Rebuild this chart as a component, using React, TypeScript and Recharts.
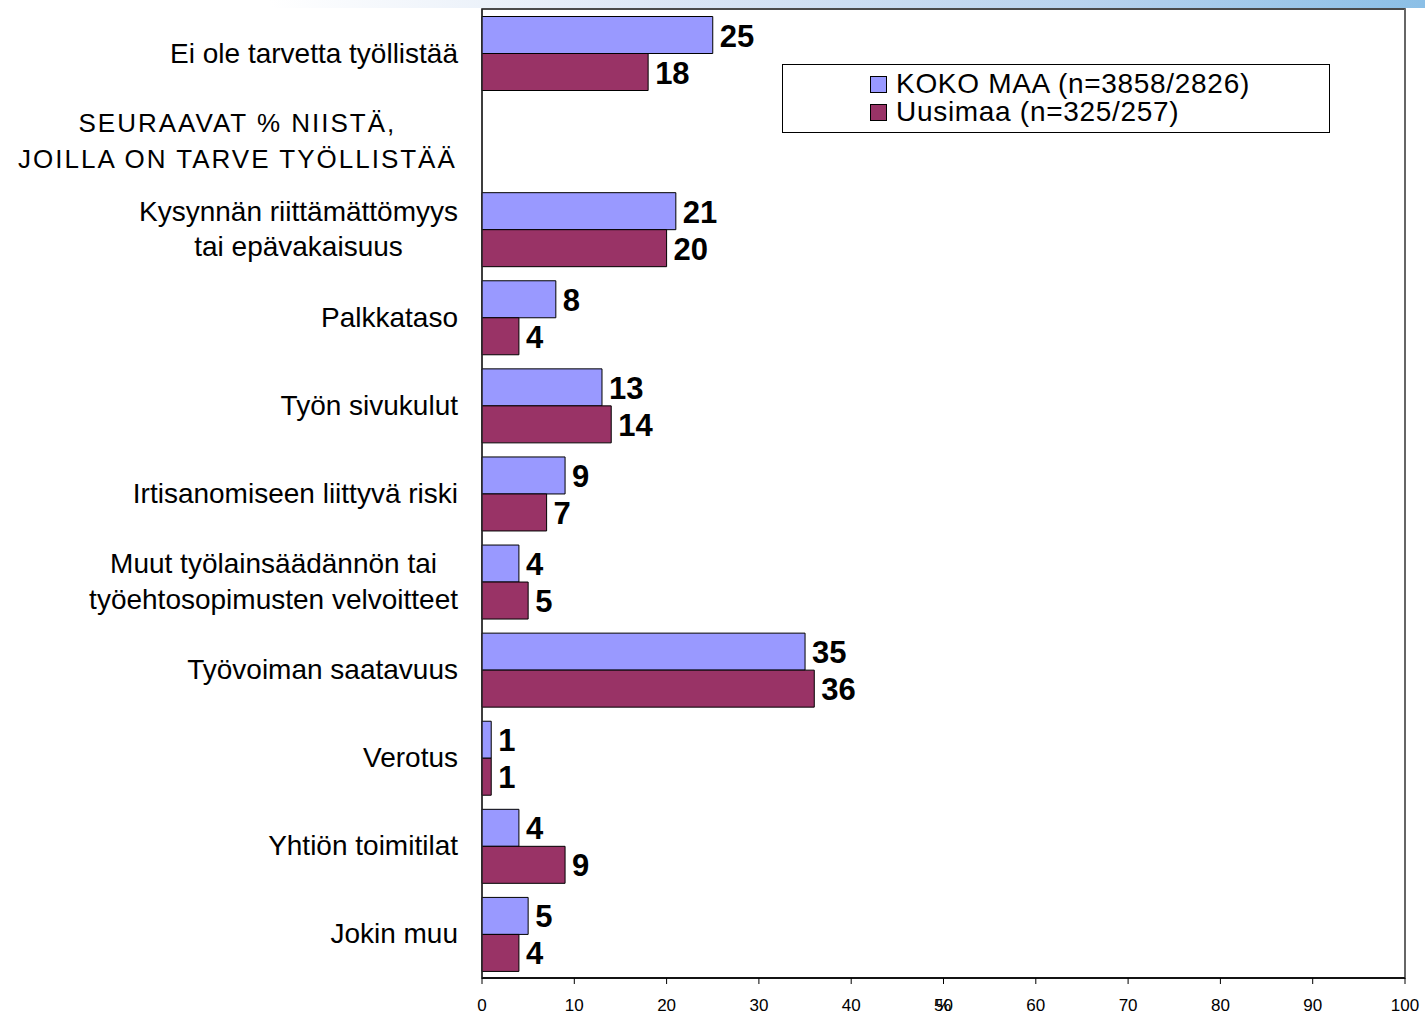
import { Bar, BarChart, LabelList, Legend, ReferenceArea, ReferenceLine, XAxis, YAxis } from "recharts";

const categories = [
  "Ei ole tarvetta työllistää",
  "SEURAAVAT % NIISTÄ,\nJOILLA ON TARVE TYÖLLISTÄÄ",
  "Kysynnän riittämättömyys\ntai epävakaisuus",
  "Palkkataso",
  "Työn sivukulut",
  "Irtisanomiseen liittyvä riski",
  "Muut työlainsäädännön tai\ntyöehtosopimusten velvoitteet",
  "Työvoiman saatavuus",
  "Verotus",
  "Yhtiön toimitilat",
  "Jokin muu",
];
const kokoMaa = [25, null, 21, 8, 13, 9, 4, 35, 1, 4, 5];
const uusimaa = [18, null, 20, 4, 14, 7, 5, 36, 1, 9, 4];
const xTicks = [0, 10, 20, 30, 40, 50, 60, 70, 80, 90, 100];

const seriesNames = ["KOKO MAA (n=3858/2826)", "Uusimaa (n=325/257)"];
const colors = ["#9999FF", "#993366"];

const data = categories.map((name, i) => ({ name, koko: kokoMaa[i], uusi: uusimaa[i] }));

const FONT = "'Liberation Sans', Arial, sans-serif";

let ctx: CanvasRenderingContext2D | null = null;
function measure(text: string, size: number, spacing: number) {
  if (!ctx) ctx = document.createElement("canvas").getContext("2d");
  if (!ctx) return text.length * size * 0.5;
  ctx.font = `${size}px ${FONT}`;
  return ctx.measureText(text).width + text.length * spacing;
}

function CategoryTick(props: any) {
  const { x, y, payload } = props;
  const lines = String(payload.value).split("\n");
  // the heading row is drawn in capitals, a bit smaller and spaced out
  const isHeading = lines[0] === lines[0].toUpperCase();
  const size = isHeading ? 26 : 28;
  const spacing = isHeading ? 2 : 0;
  if (lines.length === 1) {
    return (
      <text x={x} y={y} textAnchor="end" dominantBaseline="central" fontSize={size} fontFamily={FONT} letterSpacing={spacing} fill="#000">
        {lines[0]}
      </text>
    );
  }
  const maxW = Math.max(...lines.map((l) => measure(l, size, spacing)));
  const cx = x - maxW / 2;
  const gap = 35.5;
  return (
    <text textAnchor="middle" fontSize={size} fontFamily={FONT} letterSpacing={spacing} fill="#000">
      {lines.map((l, i) => (
        <tspan key={i} x={cx} y={y + (i - (lines.length - 1) / 2) * gap} dominantBaseline="central">
          {l}
        </tspan>
      ))}
    </text>
  );
}

function ValueLabel(props: any) {
  const { x, y, width, height, value } = props;
  if (value == null) return null;
  return (
    <text x={x + width + 7} y={y + height / 2 + 11.5} fontSize={31} fontWeight="bold" fontFamily={FONT} fill="#000">
      {value}
    </text>
  );
}

function LegendBox() {
  return (
    <div
      style={{
        width: 546,
        height: 62,
        border: "1px solid #000",
        background: "#fff",
        fontFamily: FONT,
        fontSize: 28,
        letterSpacing: 0.7,
        color: "#000",
        boxSizing: "content-box",
        paddingTop: 5,
        lineHeight: 1,
      }}
    >
      {seriesNames.map((n, i) => (
        <div key={n} style={{ display: "flex", alignItems: "center", height: 28, paddingLeft: 87 }}>
          <span
            style={{
              width: 15,
              height: 15,
              background: colors[i],
              border: "1px solid #000",
              marginRight: 9,
              display: "inline-block",
              flex: "none",
            }}
          />
          <span>{n}</span>
        </div>
      ))}
    </div>
  );
}

export default function App() {
  return (
    <div style={{ position: "absolute", left: 0, top: 0, width: 1425, height: 1015, background: "#fff" }}>
      <div
        style={{
          position: "absolute",
          left: 270,
          top: 0,
          width: 1155,
          height: 8,
          background: "linear-gradient(to right, #ffffff 0%, #dbe6f5 35%, #b9d3ee 70%, #8bbfe6 100%)",
        }}
      />
      <BarChart
        width={1425}
        height={1015}
        data={data}
        layout="vertical"
        margin={{ top: 9, right: 20, bottom: 0, left: 0 }}
        barCategoryGap={7.5}
        barGap={0}
        style={{ position: "absolute", left: 0, top: 0 }}
      >
        <XAxis
          type="number"
          domain={[0, 100]}
          ticks={xTicks}
          height={37}
          tickSize={6}
          tickMargin={15}
          axisLine={{ stroke: "#000", strokeWidth: 1.5 }}
          tickLine={{ stroke: "#000" }}
          tick={{ fontSize: 17, fontFamily: FONT, fill: "#000" }}
          label={{ value: "%", position: "insideBottom", offset: 4, fontSize: 17, fontFamily: FONT, fill: "#000" }}
          interval={0}
        />
        <YAxis
          type="category"
          dataKey="name"
          width={482}
          tickSize={0}
          tickMargin={24}
          tickLine={false}
          axisLine={{ stroke: "#333" }}
          tick={<CategoryTick />}
          interval={0}
        />
        <ReferenceArea x1={0} x2={100} fill="none" stroke="#111" strokeWidth={1.5} ifOverflow="visible" />
        <ReferenceLine x={100} stroke="#666" strokeWidth={2} />
        <Legend
          content={<LegendBox />}
          layout="vertical"
          align="center"
          verticalAlign="middle"
          wrapperStyle={{ position: "absolute", left: 782, top: 64, width: "auto", height: "auto" }}
        />
        <Bar dataKey="koko" name={seriesNames[0]} fill={colors[0]} stroke="#000" strokeWidth={1} isAnimationActive={false}>
          <LabelList dataKey="koko" content={<ValueLabel />} />
        </Bar>
        <Bar dataKey="uusi" name={seriesNames[1]} fill={colors[1]} stroke="#000" strokeWidth={1} isAnimationActive={false}>
          <LabelList dataKey="uusi" content={<ValueLabel />} />
        </Bar>
      </BarChart>
    </div>
  );
}
